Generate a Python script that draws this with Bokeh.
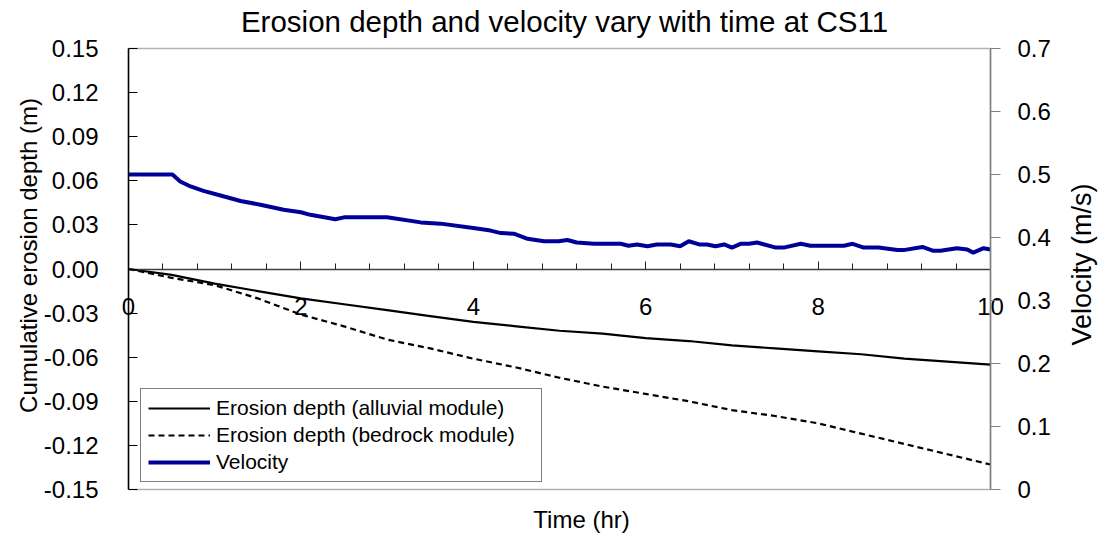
from bokeh.plotting import figure
from bokeh.models import (Range1d, LinearAxis, FixedTicker, SingleIntervalTicker, Legend,
                          LegendItem, Label, BoxAnnotation)
from bokeh.embed import file_html
from bokeh.resources import INLINE

# ---------------- data ----------------
erosion_time = [0, 0.5, 1, 1.5, 2, 2.5, 3, 3.5, 4, 4.5, 5, 5.5, 6, 6.5, 7, 7.5, 8, 8.5, 9, 9.5, 10]
alluvial_depth = [0, -0.004, -0.010, -0.015, -0.020, -0.024, -0.028, -0.032, -0.036, -0.039, -0.042,
                  -0.044, -0.047, -0.049, -0.052, -0.054, -0.056, -0.058, -0.061, -0.063, -0.065]
bedrock_depth = [0, -0.006, -0.011, -0.020, -0.031, -0.039, -0.048, -0.054, -0.061, -0.067, -0.074,
                 -0.080, -0.085, -0.090, -0.096, -0.100, -0.105, -0.112, -0.119, -0.126, -0.133]

vel_time = [0, 0.51, 0.6, 0.72, 0.87, 1.11, 1.3, 1.53, 1.8, 2.0, 2.11, 2.4, 2.5, 3.0, 3.39,
            3.62, 4.0, 4.2, 4.32, 4.47, 4.63, 4.82, 4.99, 5.09, 5.2, 5.4, 5.71, 5.8, 5.9, 6.02,
            6.13, 6.29, 6.4, 6.5, 6.62, 6.71, 6.81, 6.91, 7.0, 7.1, 7.2, 7.29, 7.51, 7.6, 7.8,
            7.91, 8.3, 8.4, 8.53, 8.7, 8.92, 8.99, 9.21, 9.33, 9.42, 9.61, 9.73, 9.8, 9.92, 10.0]
velocity = [0.5, 0.5, 0.489, 0.481, 0.474, 0.465, 0.458, 0.452, 0.444, 0.44, 0.436, 0.429, 0.432, 0.432, 0.424,
            0.422, 0.415, 0.411, 0.407, 0.406, 0.398, 0.394, 0.394, 0.396, 0.392, 0.39, 0.39, 0.387, 0.389, 0.386,
            0.389, 0.389, 0.386, 0.394, 0.389, 0.389, 0.386, 0.389, 0.384, 0.39, 0.39, 0.392, 0.384, 0.384, 0.39,
            0.387, 0.387, 0.39, 0.384, 0.384, 0.38, 0.38, 0.385, 0.379, 0.379, 0.383, 0.381, 0.376, 0.383, 0.381]

x_min, x_max = 0, 10
depth_min, depth_max = -0.15, 0.15
vel_min, vel_max = 0, 0.7
left_ticks = [-0.15, -0.12, -0.09, -0.06, -0.03, 0.0, 0.03, 0.06, 0.09, 0.12, 0.15]
left_labels = ["-0.15", "-0.12", "-0.09", "-0.06", "-0.03", "0.00", "0.03", "0.06", "0.09", "0.12", "0.15"]
right_ticks = [0, 0.1, 0.2, 0.3, 0.4, 0.5, 0.6, 0.7]
right_labels = ["0", "0.1", "0.2", "0.3", "0.4", "0.5", "0.6", "0.7"]

TITLE = "Erosion depth and velocity vary with time at CS11"
X_TITLE = "Time (hr)"
Y_TITLE = "Cumulative erosion depth (m)"
Y2_TITLE = "Velocity (m/s)"

FONT = "Liberation Sans"

# ---------------- layout (pixels) ----------------
W, H = 1099, 538
PL, PR, PT, PB = 128, 990, 48, 489   # plot-area edges on the canvas

# ranges extended so that the data box lands on the plot-area edges while the
# frame covers the whole canvas (so nothing drawn around the box is clipped)
xpp = (x_max - x_min) / (PR - PL)
ypp = (depth_max - depth_min) / (PB - PT)
vpp = (vel_max - vel_min) / (PB - PT)
x_range = Range1d(x_min - PL * xpp, x_max + (W - PR) * xpp)
y_range = Range1d(depth_min - (H - PB) * ypp, depth_max + PT * ypp)
v_range = Range1d(vel_min - (H - PB) * vpp, vel_max + PT * vpp)

p = figure(width=W, height=H, output_backend="svg", toolbar_location=None, title=None,
           x_range=x_range, y_range=y_range,
           min_border=0, min_border_left=0, min_border_right=0, min_border_top=0, min_border_bottom=0)
p.background_fill_color = "white"
p.border_fill_color = "white"
p.outline_line_color = None
p.xgrid.visible = False
p.ygrid.visible = False
p.extra_y_ranges = {"vel": v_range}

# plot-area border
p.add_layout(BoxAnnotation(left=x_min, right=x_max, bottom=depth_min, top=depth_max,
                           fill_alpha=0, line_color="black", line_width=1.5, level="underlay"))

# x axis crossing at depth = 0
xa = p.xaxis[0]
xa.fixed_location = 0
xa.bounds = (x_min, x_max)
xa.ticker = SingleIntervalTicker(interval=2, num_minor_ticks=5)
xa.major_tick_in = 8
xa.major_tick_out = 0
xa.minor_tick_in = 6
xa.minor_tick_out = 0
xa.axis_line_color = "#404040"
xa.axis_line_width = 1.5
xa.major_tick_line_color = "#202020"
xa.minor_tick_line_color = "#202020"
xa.major_label_standoff = 29
xa.major_label_text_font = FONT
xa.major_label_text_font_size = "24px"
xa.major_label_text_color = "black"

# left axis at time = 0
ya = p.yaxis[0]
ya.fixed_location = x_min
ya.bounds = (depth_min, depth_max)
ya.ticker = FixedTicker(ticks=left_ticks)
ya.major_label_overrides = dict(zip(left_ticks, left_labels))
ya.major_tick_in = 9
ya.major_tick_out = 0
ya.minor_tick_line_color = None
ya.axis_line_color = "black"
ya.axis_line_width = 1.5
ya.major_tick_line_color = "black"
ya.major_label_standoff = 30
ya.major_label_text_font = FONT
ya.major_label_text_font_size = "24px"
ya.major_label_text_color = "black"

# right axis at time = 10
ra = LinearAxis(y_range_name="vel", ticker=FixedTicker(ticks=right_ticks),
                fixed_location=x_max, bounds=(vel_min, vel_max))
ra.major_label_overrides = dict(zip(right_ticks, right_labels))
ra.major_tick_in = 0
ra.major_tick_out = 10
ra.minor_tick_line_color = None
ra.axis_line_color = "#808080"
ra.axis_line_width = 1.5
ra.major_tick_line_color = "#808080"
ra.major_label_standoff = 17
ra.major_label_text_font = FONT
ra.major_label_text_font_size = "24px"
ra.major_label_text_color = "black"
p.add_layout(ra, "right")

# titles (screen units measured from the canvas bottom-left)
p.add_layout(Label(x=564, y=H - 21, x_units="screen", y_units="screen", text=TITLE,
                   text_align="center", text_baseline="middle", text_font=FONT,
                   text_font_size="29.5px", text_color="black"))
p.add_layout(Label(x=581, y=H - 519, x_units="screen", y_units="screen", text=X_TITLE,
                   text_align="center", text_baseline="middle", text_font=FONT,
                   text_font_size="24px", text_color="black"))
p.add_layout(Label(x=28, y=H - 255, x_units="screen", y_units="screen", text=Y_TITLE,
                   angle=90, angle_units="deg", text_align="center", text_baseline="middle",
                   text_font=FONT, text_font_size="24px", text_color="black"))
p.add_layout(Label(x=1081, y=H - 264, x_units="screen", y_units="screen", text=Y2_TITLE,
                   angle=90, angle_units="deg", text_align="center", text_baseline="middle",
                   text_font=FONT, text_font_size="27px", text_color="black"))

r_all = p.line(erosion_time, alluvial_depth, line_color="black", line_width=2.2)
r_bed = p.line(erosion_time, bedrock_depth, line_color="black", line_width=2.2, line_dash="6 4")
r_vel = p.line(vel_time, velocity, y_range_name="vel", line_color="#000099", line_width=4)

legend = Legend(items=[LegendItem(label="Erosion depth (alluvial module)", renderers=[r_all]),
                       LegendItem(label="Erosion depth (bedrock module)", renderers=[r_bed]),
                       LegendItem(label="Velocity", renderers=[r_vel])],
                location=(140, H - 482), margin=0, padding=7, spacing=3,
                glyph_width=62, glyph_height=24, label_height=24, label_width=318,
                label_standoff=6, label_text_font=FONT, label_text_font_size="21px",
                label_text_color="black",
                border_line_color="black", border_line_width=1,
                background_fill_color="white", background_fill_alpha=1.0)
p.add_layout(legend)

open("out.html", "w").write(file_html(p, INLINE))
